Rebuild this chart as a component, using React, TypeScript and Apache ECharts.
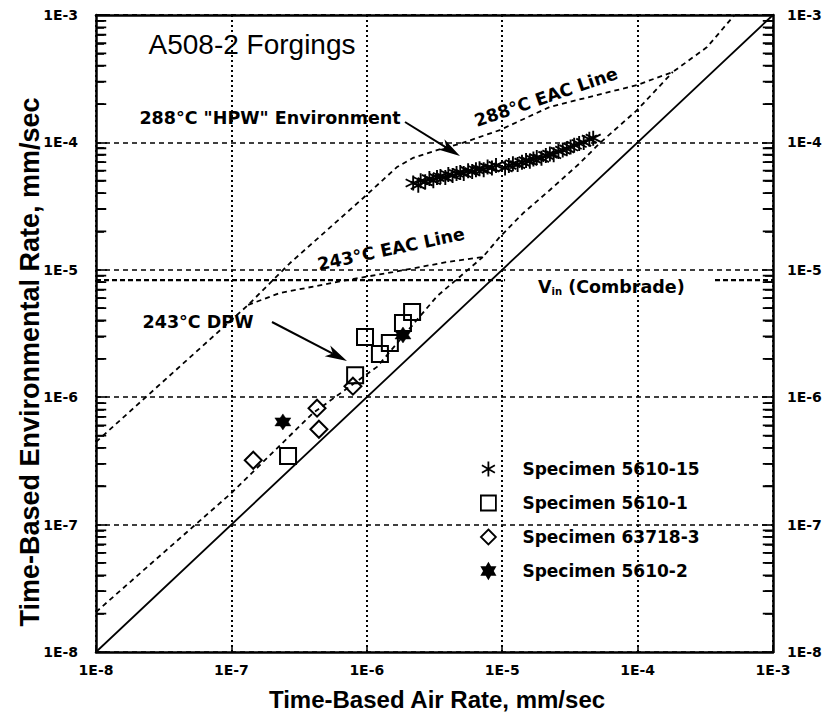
import React, { useEffect, useRef } from 'react';
import * as echarts from 'echarts';

// ---- axis ticks ----
const tickExponents = [-8, -7, -6, -5, -4, -3];
const tickLabels = ['1E-8', '1E-7', '1E-6', '1E-5', '1E-4', '1E-3'];
const minorMultipliers = [2, 3, 4, 5, 6, 7, 8, 9];

// ---- legend / series names ----
const seriesNames = ['Specimen 5610-15', 'Specimen 5610-1', 'Specimen 63718-3', 'Specimen 5610-2'];

// ---- data points [air rate, environmental rate] ----
const specimen5610_15: [number, number][] = [
  [2.2e-6, 4.8e-5], [2.4e-6, 4.6e-5], [2.5e-6, 5.0e-5], [2.7e-6, 4.9e-5], [2.9e-6, 5.2e-5],
  [3.1e-6, 5.0e-5], [3.3e-6, 5.3e-5], [3.5e-6, 5.4e-5], [3.8e-6, 5.3e-5], [4.0e-6, 5.6e-5],
  [4.3e-6, 5.5e-5], [4.6e-6, 5.7e-5], [4.9e-6, 5.8e-5], [5.2e-6, 5.7e-5], [5.6e-6, 6.0e-5],
  [6.0e-6, 5.9e-5], [6.4e-6, 6.1e-5], [6.8e-6, 6.2e-5], [7.3e-6, 6.1e-5], [7.8e-6, 6.4e-5],
  [8.4e-6, 6.3e-5], [9.0e-6, 6.6e-5], [1.05e-5, 6.3e-5], [1.12e-5, 6.6e-5], [1.2e-5, 6.8e-5],
  [1.3e-5, 6.7e-5], [1.4e-5, 7.0e-5], [1.5e-5, 7.2e-5], [1.6e-5, 7.1e-5], [1.7e-5, 7.4e-5],
  [1.8e-5, 7.6e-5], [1.95e-5, 7.5e-5], [2.1e-5, 7.9e-5], [2.25e-5, 8.1e-5], [2.4e-5, 8.0e-5],
  [2.6e-5, 8.5e-5], [2.8e-5, 8.7e-5], [3.0e-5, 8.9e-5], [3.2e-5, 9.2e-5], [3.4e-5, 9.5e-5],
  [3.7e-5, 9.8e-5], [4.0e-5, 1.0e-4], [4.4e-5, 1.06e-4], [4.7e-5, 1.08e-4],
];
const specimen5610_1: [number, number][] = [
  [2.62e-7, 3.45e-7], [8.2e-7, 1.49e-6], [9.7e-7, 2.97e-6], [1.25e-6, 2.18e-6],
  [1.48e-6, 2.66e-6], [1.85e-6, 3.82e-6], [2.16e-6, 4.67e-6],
];
const specimen63718_3: [number, number][] = [
  [1.45e-7, 3.2e-7], [4.29e-7, 8.2e-7], [4.43e-7, 5.6e-7], [7.9e-7, 1.22e-6],
];
const specimen5610_2: [number, number][] = [
  [2.4e-7, 6.4e-7], [1.85e-6, 3.08e-6],
];

// ---- reference lines ----
const unityLine: [number, number][] = [[1e-8, 1e-8], [1e-3, 1e-3]];
const eac288Line: [number, number][] = [
  [1e-8, 4.45e-7], [1.33e-7, 5.3e-6], [2.71e-7, 1.13e-5], [9.4e-7, 3.66e-5], [1.67e-6, 6.4e-5],
  [2.19e-6, 7.55e-5], [3.3e-6, 8.7e-5], [5.1e-6, 9.9e-5], [9.6e-6, 1.25e-4], [2.25e-5, 1.9e-4],
  [9.9e-5, 2.82e-4], [1.82e-4, 3.57e-4], [3.26e-4, 5.6e-4], [5.2e-4, 1e-3],
];
const eac243Line: [number, number][] = [
  [1.33e-7, 5.3e-6], [2.29e-7, 6.58e-6], [7.14e-7, 8.3e-6], [1.56e-6, 9.6e-6], [3.91e-6, 1.15e-5],
  [7.2e-6, 1.26e-5], [9.6e-6, 1.81e-5], [1.43e-5, 2.79e-5], [2.25e-5, 4.23e-5], [3.76e-5, 6.9e-5],
  [5.27e-5, 9.9e-5], [9.9e-5, 1.79e-4], [1.82e-4, 3.57e-4],
];
const dpw243Line: [number, number][] = [
  [1e-8, 2.06e-8], [1e-7, 1.77e-7], [4.0e-7, 7.5e-7], [1.19e-6, 1.73e-6], [3.3e-6, 6.2e-6],
  [7.2e-6, 1.26e-5],
];
const vinLevel = 8.3e-6;
const vinLeft: [number, number][] = [[1e-8, vinLevel], [1.05e-5, vinLevel]];
const vinRight: [number, number][] = [[3.73e-4, vinLevel], [1e-3, vinLevel]];

const AXIS_MIN = 1e-8;
const AXIS_MAX = 1e-3;
// length of an inside minor tick expressed as a factor along the log x axis (~10 px)
const TICK_FACTOR = 1.19;

const GRID = { left: 96, right: 54, top: 15, bottom: 63 };
const WIDTH = 827;
const HEIGHT = 715;

const asteriskPath = 'path://M5,0L5,10M0.67,2.5L9.33,7.5M0.67,7.5L9.33,2.5';
const squarePath = 'path://M0,0L10,0L10,10L0,10Z';
const diamondPath = 'path://M5,0L10,5L5,10L0,5Z';
const starPath = 'path://M5,0L9.33,7.5L0.67,7.5Z M5,10L0.67,2.5L9.33,2.5Z';

const boldFont = 'DejaVu Sans';

function fmt(v: number): string {
  const e = Math.round(Math.log10(v));
  const i = tickExponents.indexOf(e);
  return i >= 0 ? tickLabels[i] : '';
}

function arrow(x1: number, y1: number, x2: number, y2: number): any[] {
  const dx = x2 - x1;
  const dy = y2 - y1;
  const len = Math.sqrt(dx * dx + dy * dy);
  const ux = dx / len;
  const uy = dy / len;
  const nx = -uy;
  const ny = ux;
  const hl = 22;
  const hw = 6;
  const bx = x2 - hl * ux;
  const by = y2 - hl * uy;
  const ix = x2 - 16 * ux;
  const iy = y2 - 16 * uy;
  return [
    {
      type: 'line',
      shape: { x1, y1, x2: ix, y2: iy },
      style: { stroke: '#000', lineWidth: 2 },
      z: 100,
    },
    {
      type: 'polygon',
      shape: { points: [[x2, y2], [bx + hw * nx, by + hw * ny], [ix, iy], [bx - hw * nx, by - hw * ny]] },
      style: { fill: '#000' },
      z: 100,
    },
  ];
}

function boldText(text: string, x: number, y: number, rotation = 0): any {
  return {
    type: 'text',
    x,
    y,
    rotation,
    z: 100,
    style: {
      text,
      fontFamily: boldFont,
      fontWeight: 'bold',
      fontSize: 17.5,
      fill: '#000',
      align: 'center',
      verticalAlign: 'middle',
    },
  };
}

// minor tick segments (line series with breaks) on the inside of the left and right frame
function minorTickSegments(): any[] {
  const out: any[] = [];
  for (let i = 0; i < tickExponents.length - 1; i++) {
    const e = tickExponents[i];
    for (let k = 0; k < minorMultipliers.length; k++) {
      const v = minorMultipliers[k] * Math.pow(10, e);
      out.push([AXIS_MIN, v], [AXIS_MIN * TICK_FACTOR, v], [AXIS_MIN * TICK_FACTOR, '-']);
      out.push([AXIS_MAX / TICK_FACTOR, v], [AXIS_MAX, v], [AXIS_MAX, '-']);
    }
  }
  return out;
}

export default function App() {
  const ref = useRef<HTMLDivElement>(null);
  useEffect(() => {
    if (!ref.current) return;
    const chart = echarts.init(ref.current, undefined, { renderer: 'svg' });

    const tickLabelStyle = {
      color: '#000',
      fontFamily: boldFont,
      fontWeight: 'bold' as const,
      fontSize: 14,
    };
    const axisLineStyle = { color: '#000', width: 2.5 };
    const yMinorTick = {
      show: true,
      splitNumber: 9,
      length: 8,
      lineStyle: { color: '#000', width: 1.6 },
    };

    const dashedLine = (name: string, data: [number, number][]) => ({
      name,
      type: 'line',
      data,
      showSymbol: false,
      symbol: 'none',
      silent: true,
      lineStyle: { color: '#000', width: 1.8, type: [5, 4] },
      z: 3,
    });

    const graphics: any[] = [
      {
        type: 'text',
        x: 252,
        y: 44,
        z: 100,
        style: {
          text: 'A508-2 Forgings',
          fontFamily: 'Liberation Sans',
          fontSize: 28,
          fill: '#000',
          align: 'center',
          verticalAlign: 'middle',
        },
      },
      boldText('288°C "HPW" Environment', 270, 118),
      boldText('288°C EAC Line', 546, 97, 0.33),
      boldText('243°C EAC Line', 391, 249, 0.21),
      boldText('243°C DPW', 198, 322),
      {
        type: 'text',
        x: 538,
        y: 287,
        z: 100,
        style: {
          text: '{v|V}{s|in}{t| (Combrade)}',
          fill: '#000',
          align: 'left',
          verticalAlign: 'middle',
          rich: {
            v: { fontFamily: boldFont, fontWeight: 'bold', fontSize: 17.5, fill: '#000' },
            s: { fontFamily: boldFont, fontWeight: 'bold', fontSize: 10, fill: '#000', padding: [9, 0, 0, 0] },
            t: { fontFamily: boldFont, fontWeight: 'bold', fontSize: 17.5, fill: '#000' },
          },
        },
      },
      {
        type: 'text',
        x: 437,
        y: 699,
        z: 100,
        style: {
          text: 'Time-Based Air Rate, mm/sec',
          fontFamily: 'Liberation Sans',
          fontWeight: 'bold',
          fontSize: 24,
          fill: '#000',
          align: 'center',
          verticalAlign: 'middle',
        },
      },
      {
        type: 'text',
        x: 30,
        y: 362,
        rotation: Math.PI / 2,
        z: 100,
        style: {
          text: 'Time-Based Environmental Rate, mm/sec',
          fontFamily: 'Liberation Sans',
          fontWeight: 'bold',
          fontSize: 27,
          fill: '#000',
          align: 'center',
          verticalAlign: 'middle',
        },
      },
      ...arrow(405, 122, 460, 156),
      ...arrow(272, 322, 347, 361),
    ];

    const scatterStyle = (borderWidth: number, fill: string) => ({
      color: fill,
      borderColor: '#000',
      borderWidth,
      opacity: 1,
    });

    const option: any = {
      animation: false,
      backgroundColor: '#fff',
      grid: GRID,
      legend: {
        data: seriesNames,
        orient: 'vertical',
        left: 475,
        top: 454,
        itemWidth: 58,
        itemHeight: 15,
        itemGap: 14,
        selectedMode: false,
        itemStyle: { borderWidth: 1.8, opacity: 1 },
        textStyle: {
          color: '#000',
          fontFamily: boldFont,
          fontWeight: 'bold',
          fontSize: 17,
          lineHeight: 20,
        },
      },
      xAxis: [
        {
          type: 'log',
          logBase: 10,
          min: AXIS_MIN,
          max: AXIS_MAX,
          position: 'bottom',
          axisLine: { onZero: false, lineStyle: axisLineStyle },
          axisTick: { inside: true, length: 7, lineStyle: { color: '#000', width: 1.5 } },
          axisLabel: { ...tickLabelStyle, margin: 11, formatter: fmt },
          splitLine: { show: true, lineStyle: { color: '#000', width: 2, type: [2, 3] } },
        },
        {
          type: 'log',
          logBase: 10,
          min: AXIS_MIN,
          max: AXIS_MAX,
          position: 'top',
          axisLine: { onZero: false, lineStyle: axisLineStyle },
          axisTick: { show: false },
          axisLabel: { show: false },
          splitLine: { show: false },
        },
      ],
      yAxis: [
        {
          type: 'log',
          logBase: 10,
          min: AXIS_MIN,
          max: AXIS_MAX,
          position: 'left',
          axisLine: { onZero: false, lineStyle: axisLineStyle },
          axisTick: { inside: true, length: 11, lineStyle: { color: '#000', width: 1.6 } },
          minorTick: yMinorTick,
          axisLabel: { ...tickLabelStyle, margin: 18, formatter: fmt },
          splitLine: { show: true, lineStyle: { color: '#000', width: 1.7, type: [5, 4] } },
        },
        {
          type: 'log',
          logBase: 10,
          min: AXIS_MIN,
          max: AXIS_MAX,
          position: 'right',
          axisLine: { onZero: false, lineStyle: axisLineStyle },
          axisTick: { inside: true, length: 11, lineStyle: { color: '#000', width: 1.6 } },
          minorTick: yMinorTick,
          axisLabel: { ...tickLabelStyle, margin: 14, formatter: fmt },
          splitLine: { show: false },
        },
      ],
      series: [
        {
          name: 'minorTicks',
          type: 'line',
          data: minorTickSegments(),
          showSymbol: false,
          symbol: 'none',
          silent: true,
          connectNulls: false,
          lineStyle: { color: '#000', width: 1.8, type: 'solid' },
          z: 6,
        },
        {
          name: 'unity',
          type: 'line',
          data: unityLine,
          showSymbol: false,
          symbol: 'none',
          silent: true,
          lineStyle: { color: '#000', width: 1.8, type: 'solid' },
          z: 3,
        },
        dashedLine('eac288', eac288Line),
        dashedLine('eac243', eac243Line),
        dashedLine('dpw243', dpw243Line),
        {
          name: 'vinLeft',
          type: 'line',
          data: vinLeft,
          showSymbol: false,
          symbol: 'none',
          silent: true,
          lineStyle: { color: '#000', width: 2.4, type: [5, 3] },
          z: 3,
        },
        {
          name: 'vinRight',
          type: 'line',
          data: vinRight,
          showSymbol: false,
          symbol: 'none',
          silent: true,
          lineStyle: { color: '#000', width: 2.4, type: [5, 3] },
          z: 3,
        },
        {
          name: seriesNames[0],
          type: 'scatter',
          data: specimen5610_15,
          symbol: asteriskPath,
          symbolSize: 15,
          itemStyle: scatterStyle(1.9, 'rgba(0,0,0,0)'),
          z: 5,
        },
        {
          name: seriesNames[1],
          type: 'scatter',
          data: specimen5610_1,
          symbol: squarePath,
          symbolSize: 16,
          itemStyle: scatterStyle(2, 'rgba(0,0,0,0)'),
          z: 5,
        },
        {
          name: seriesNames[2],
          type: 'scatter',
          data: specimen63718_3,
          symbol: diamondPath,
          symbolSize: 17,
          itemStyle: scatterStyle(2, 'rgba(0,0,0,0)'),
          z: 5,
        },
        {
          name: seriesNames[3],
          type: 'scatter',
          data: specimen5610_2,
          symbol: starPath,
          symbolSize: 16,
          itemStyle: scatterStyle(0.5, '#000'),
          z: 5,
        },
      ],
      graphic: graphics,
    };

    chart.setOption(option);
    return () => chart.dispose();
  }, []);

  return (
    <div
      ref={ref}
      style={{ position: 'absolute', left: 0, top: 0, width: WIDTH, height: HEIGHT, background: '#fff' }}
    />
  );
}
